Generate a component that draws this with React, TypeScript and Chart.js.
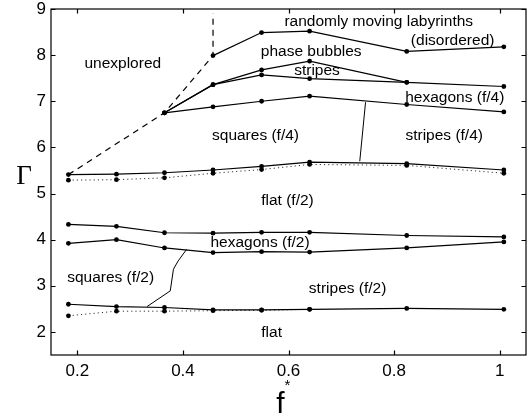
import React, { useEffect, useRef } from 'react';
import { Chart, registerables } from 'chart.js';

Chart.register(...registerables);

// ---- data ----
const fStar = [0.183, 0.274, 0.365, 0.457, 0.549, 0.64, 0.824, 1.008];

const labyrinthLower = [7.99, 8.49, 8.52, 8.08, 8.18]; // from fStar[3]
const bubblesLower = [6.75, 7.36, 7.68, 7.87, 7.41, 7.32]; // from fStar[2]
const stripesLower = [6.75, 7.36, 7.57, 7.49, 7.41]; // from fStar[2]
const hexF4Lower = [6.75, 6.88, 7.0, 7.11, 6.93, 6.77]; // from fStar[2]
const flatF2Upper = [5.41, 5.42, 5.45, 5.51, 5.59, 5.68, 5.65, 5.51];
const flatF2UpperDotted = [5.29, 5.3, 5.34, 5.44, 5.52, 5.63, 5.61, 5.44];
const hexF2Upper = [4.33, 4.29, 4.15, 4.14, 4.16, 4.16, 4.09, 4.06];
const hexF2Lower = [3.92, 4.0, 3.82, 3.72, 3.74, 3.73, 3.82, 3.95];
const flatUpper = [2.6, 2.55, 2.53, 2.48, 2.48, 2.49, 2.51, 2.49];
const flatUpperDotted = [2.35, 2.45, 2.45, 2.46, 2.47, 2.49]; // to fStar[5]

const unexploredX = [0.183, 0.365, 0.457, 0.457];
const unexploredY = [5.41, 6.75, 7.99, 8.9];
const f4BoundaryX = [0.746, 0.735];
const f4BoundaryY = [6.98, 5.7];
const f2BoundaryX = [0.332, 0.376, 0.382, 0.391, 0.407];
const f2BoundaryY = [2.55, 2.89, 3.36, 3.54, 3.79];

const xTicks = [0.2, 0.4, 0.6, 0.8, 1];
const yTicks = [2, 3, 4, 5, 6, 7, 8, 9];

const regionLabels = [
  'unexplored',
  'randomly moving labyrinths',
  '(disordered)',
  'phase bubbles',
  'stripes',
  'hexagons (f/4)',
  'squares (f/4)',
  'stripes (f/4)',
  'flat (f/2)',
  'hexagons (f/2)',
  'squares (f/2)',
  'stripes (f/2)',
  'flat',
];
const regionLabelX = [0.286, 0.771, 0.911, 0.643, 0.654, 0.915, 0.5375, 0.895, 0.598, 0.546, 0.263, 0.712, 0.568];
const regionLabelY = [7.81, 8.73, 8.32, 8.07, 7.66, 7.07, 6.26, 6.26, 4.85, 3.94, 3.18, 2.94, 1.99];

// ---- helpers ----
const pts = (xs: number[], ys: number[], offset = 0) =>
  ys.map((y, i) => ({ x: xs[i + offset], y }));

const SANS = '"Liberation Sans", Arial, Helvetica, sans-serif';

const solid = (data: any[], markers = true) => ({
  data,
  showLine: true,
  borderColor: '#000',
  backgroundColor: '#000',
  borderWidth: 1.2,
  pointRadius: markers ? 2.4 : 0,
  pointBorderWidth: 0,
  pointBackgroundColor: '#000',
  tension: 0,
});

const dotted = (data: any[]) => ({
  ...solid(data, true),
  borderWidth: 1,
  borderDash: [1.2, 3],
  borderColor: '#333',
});

const decorPlugin = {
  id: 'decor',
  afterDraw(chart: any) {
    const { ctx, chartArea: a, scales } = chart;
    const xs = scales.x;
    const ys = scales.y;
    ctx.save();
    ctx.strokeStyle = '#000';
    ctx.lineWidth = 1.2;
    ctx.setLineDash([]);
    ctx.strokeRect(a.left, a.top, a.right - a.left, a.bottom - a.top);
    const tl = 4.5;
    ctx.beginPath();
    xTicks.forEach((v) => {
      const p = Math.round(xs.getPixelForValue(v)) + 0.5;
      ctx.moveTo(p, a.bottom);
      ctx.lineTo(p, a.bottom - tl);
      ctx.moveTo(p, a.top);
      ctx.lineTo(p, a.top + tl);
    });
    yTicks.forEach((v) => {
      const p = Math.round(ys.getPixelForValue(v)) + 0.5;
      ctx.moveTo(a.left, p);
      ctx.lineTo(a.left + tl, p);
      ctx.moveTo(a.right, p);
      ctx.lineTo(a.right - tl, p);
    });
    ctx.stroke();

    // region labels
    ctx.fillStyle = '#000';
    ctx.font = `15.5px ${SANS}`;
    ctx.textAlign = 'center';
    ctx.textBaseline = 'middle';
    regionLabels.forEach((t, i) => {
      ctx.fillText(t, xs.getPixelForValue(regionLabelX[i]), ys.getPixelForValue(regionLabelY[i]));
    });

    // axis titles
    ctx.font = '27px "Liberation Serif", "DejaVu Serif", serif';
    ctx.textAlign = 'center';
    ctx.textBaseline = 'alphabetic';
    ctx.fillText('Γ', 24, 184);

    const cx = (a.left + a.right) / 2;
    ctx.font = `30px ${SANS}`;
    ctx.fillText('f', cx - 8, 413);
    ctx.font = `15px ${SANS}`;
    ctx.fillText('*', cx - 1, 390);
    ctx.restore();
  },
};

export default function App() {
  const ref = useRef<HTMLCanvasElement | null>(null);

  useEffect(() => {
    if (!ref.current) return;
    const chart = new Chart(ref.current, {
      type: 'scatter',
      data: {
        datasets: [
          solid(pts(fStar, labyrinthLower, 3)),
          solid(pts(fStar, bubblesLower, 2)),
          solid(pts(fStar, stripesLower, 2)),
          solid(pts(fStar, hexF4Lower, 2)),
          solid(pts(fStar, flatF2Upper)),
          dotted(pts(fStar, flatF2UpperDotted)),
          solid(pts(fStar, hexF2Upper)),
          solid(pts(fStar, hexF2Lower)),
          solid(pts(fStar, flatUpper)),
          dotted(pts(fStar, flatUpperDotted)),
          { ...solid(pts(unexploredX, unexploredY), false), borderDash: [6, 5] },
          { ...solid(pts(f4BoundaryX, f4BoundaryY), false), borderWidth: 1 },
          { ...solid(pts(f2BoundaryX, f2BoundaryY), false), borderWidth: 1 },
        ] as any,
      },
      options: {
        responsive: false,
        animation: false,
        devicePixelRatio: 1,
        layout: { padding: { left: 0, top: 9, right: 6, bottom: 0 } },
        plugins: { legend: { display: false }, tooltip: { enabled: false } },
        scales: {
          x: {
            type: 'linear',
            min: 0.15,
            max: 1.05,
            grid: { display: false, drawTicks: false },
            border: { display: false },
            afterBuildTicks: (s: any) => {
              s.ticks = xTicks.map((v) => ({ value: v }));
            },
            afterFit: (s: any) => {
              s.height = 63;
              s.paddingLeft = 0;
              s.paddingRight = 0;
            },
            ticks: {
              color: '#000',
              padding: 6,
              font: { family: SANS, size: 17 },
              callback: (v: any) => String(v),
            },
          },
          y: {
            type: 'linear',
            min: 1.5,
            max: 9,
            grid: { display: false, drawTicks: false },
            border: { display: false },
            afterBuildTicks: (s: any) => {
              s.ticks = yTicks.map((v) => ({ value: v }));
            },
            afterFit: (s: any) => {
              s.width = 51;
              s.paddingTop = 0;
              s.paddingBottom = 0;
            },
            ticks: {
              color: '#000',
              padding: 5,
              font: { family: SANS, size: 17 },
              callback: (v: any) => String(v),
            },
          },
        },
      },
      plugins: [decorPlugin],
    });
    return () => chart.destroy();
  }, []);

  return (
    <div style={{ position: 'absolute', left: 0, top: 0, width: 532, height: 418, background: '#fff' }}>
      <canvas ref={ref} width={532} height={418} style={{ display: 'block' }} />
    </div>
  );
}
